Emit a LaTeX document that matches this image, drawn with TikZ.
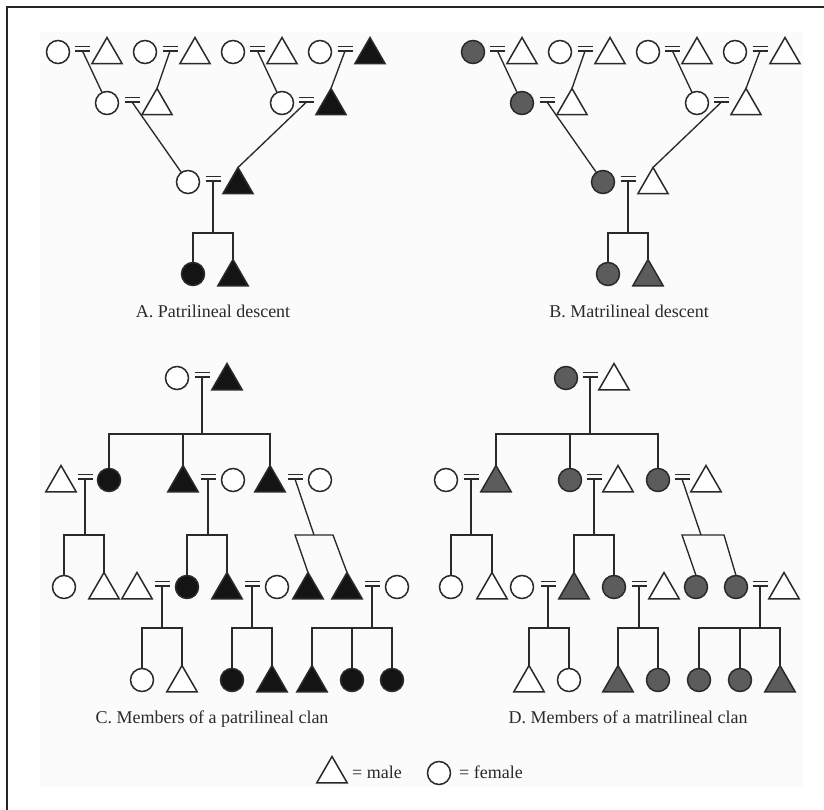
\documentclass[tikz,border=0pt]{standalone}
\usepackage{fontspec}
\setmainfont{Liberation Serif}
\usetikzlibrary{shapes.geometric,calc}
\definecolor{ink}{HTML}{2A2A2A}
\definecolor{mg}{HTML}{5C5C5C}
\definecolor{blk}{HTML}{141414}
\definecolor{bgc}{HTML}{FBFBFB}
\tikzset{
  fem/.style={circle,draw=ink,line width=1.5pt,minimum size=23pt,inner sep=0pt,outer sep=0pt},
  mal/.style={regular polygon,regular polygon sides=3,draw=ink,line width=1.5pt,minimum size=35pt,inner sep=0pt,outer sep=0pt},
  conn/.style={draw=ink,line width=1.35pt},
  eqline/.style={draw=ink,line width=1.3pt},
  lab/.style={text=ink,font=\fontsize{18}{20}\selectfont,inner sep=0pt},
}
\newcommand\Fem[4]{\node[fem,fill=#4] (#1) at (#2,#3) {};}
\newcommand\Mal[4]{\node[mal,fill=#4] (#1) at (#2,#3+3) {};}
\newcommand\Eq[3]{%
  \path (#2.center) -- (#3.center) coordinate[midway] (#1tmp);
  \coordinate (#1) at ($(#1tmp)+(0,-2.5)$);
  \draw[eqline] ($(#1)+(-7.5,-4.5)$) -- ++(15,0) ($(#1)+(-7.5,0)$) -- ++(15,0);}
\newcommand\KidsTwo[4]{% marriage, kid1, kid2, bar y
  \draw[conn] (#1) -- (#1 |- 0,#4);
  \draw[conn] (#2.north) |- (#1 |- 0,#4) -| (#3.north);}
\newcommand\KidsThree[5]{% marriage, kid1, kid2, kid3, bar y
  \draw[conn] (#1) -- (#1 |- 0,#5);
  \draw[conn] (#2.north) |- (#1 |- 0,#5) -| (#4.north);
  \draw[conn] (#3.north) -- (#3.north |- 0,#5);}
\begin{document}
\begin{tikzpicture}[x=1pt,y=-1pt]
\useasboundingbox (0,0) rectangle (824,810);
\fill[white] (0,0) rectangle (824,810);
\fill[bgc] (40,32) rectangle (803,787);
\draw[line width=1.8pt,draw=black!85] (824,7) -- (7,7) -- (7,810);

% ---------- Panel A ----------
\Fem{a1}{58}{52}{white}  \Mal{a2}{107}{52}{white} \Eq{ma1}{a1}{a2}
\Fem{a3}{145}{52}{white} \Mal{a4}{195}{52}{white} \Eq{ma2}{a3}{a4}
\Fem{a5}{233}{52}{white} \Mal{a6}{282}{52}{white} \Eq{ma3}{a5}{a6}
\Fem{a7}{320}{52}{white} \Mal{a8}{370}{52}{blk}   \Eq{ma4}{a7}{a8}
\Fem{a9}{107}{103}{white}  \Mal{a10}{157}{103}{white} \Eq{ma5}{a9}{a10}
\Fem{a11}{282}{103}{white} \Mal{a12}{331}{103}{blk}   \Eq{ma6}{a11}{a12}
\Fem{a13}{188}{182}{white} \Mal{a14}{238}{182}{blk}   \Eq{ma7}{a13}{a14}
\Fem{a15}{193}{274}{blk} \Mal{a16}{233}{274}{blk}
\draw[conn] (ma1) -- (a9);
\draw[conn] (ma2) -- (a10.north);
\draw[conn] (ma3) -- (a11);
\draw[conn] (ma4) -- (a12.north);
\draw[conn] (ma5) -- (a13);
\draw[conn] (ma6) -- (a14.north);
\KidsTwo{ma7}{a15}{a16}{233}
\node[lab,anchor=base] (la) at (213,317) {A. Patrilineal descent};

% ---------- Panel B ----------
\begin{scope}[xshift=415pt]
\Fem{b1}{58}{52}{mg}     \Mal{b2}{107}{52}{white} \Eq{mb1}{b1}{b2}
\Fem{b3}{145}{52}{white} \Mal{b4}{195}{52}{white} \Eq{mb2}{b3}{b4}
\Fem{b5}{233}{52}{white} \Mal{b6}{282}{52}{white} \Eq{mb3}{b5}{b6}
\Fem{b7}{320}{52}{white} \Mal{b8}{370}{52}{white} \Eq{mb4}{b7}{b8}
\Fem{b9}{107}{103}{mg}     \Mal{b10}{157}{103}{white} \Eq{mb5}{b9}{b10}
\Fem{b11}{282}{103}{white} \Mal{b12}{331}{103}{white} \Eq{mb6}{b11}{b12}
\Fem{b13}{188}{182}{mg}    \Mal{b14}{238}{182}{white} \Eq{mb7}{b13}{b14}
\Fem{b15}{193}{274}{mg} \Mal{b16}{233}{274}{mg}
\draw[conn] (mb1) -- (b9);
\draw[conn] (mb2) -- (b10.north);
\draw[conn] (mb3) -- (b11);
\draw[conn] (mb4) -- (b12.north);
\draw[conn] (mb5) -- (b13);
\draw[conn] (mb6) -- (b14.north);
\KidsTwo{mb7}{b15}{b16}{233}
\node[lab,anchor=base] (lb) at (214,317) {B. Matrilineal descent};
\end{scope}

% ---------- Panel C ----------
\Fem{c1}{177}{378}{white} \Mal{c2}{227}{378}{blk} \Eq{mc1}{c1}{c2}
% row 2
\Mal{c3}{61}{480}{white} \Fem{c4}{109}{480}{blk}   \Eq{mc2}{c3}{c4}
\Mal{c5}{183}{480}{blk}  \Fem{c6}{233}{480}{white} \Eq{mc3}{c5}{c6}
\Mal{c7}{270}{480}{blk}  \Fem{c8}{320}{480}{white} \Eq{mc4}{c7}{c8}
\KidsThree{mc1}{c4}{c5}{c7}{434}
% row 3
\Fem{c9}{64}{587}{white} \Mal{c10}{104}{587}{white}
\Mal{c11}{137}{587}{white} \Fem{c12}{187}{587}{blk}  \Eq{mc5}{c11}{c12}
\Mal{c13}{227}{587}{blk}   \Fem{c14}{277}{587}{white} \Eq{mc6}{c13}{c14}
\Mal{c15}{308}{587}{blk}
\Mal{c16}{347}{587}{blk}   \Fem{c17}{397}{587}{white} \Eq{mc7}{c16}{c17}
\KidsTwo{mc2}{c9}{c10}{535}
\KidsTwo{mc3}{c12}{c13}{535}
\coordinate (cl) at (295,535);
\coordinate (cm) at (314,535);
\coordinate (cr) at (333,535);
\draw[conn] (mc4) -- (cm);
\draw[conn] (c15.north) -- (cl) -- (cr) -- (c16.north);
% row 4
\Fem{c18}{142}{680}{white} \Mal{c19}{182}{680}{white}
\Fem{c20}{232}{680}{blk}   \Mal{c21}{272}{680}{blk}
\Mal{c22}{312}{680}{blk} \Fem{c23}{352}{680}{blk} \Fem{c24}{392}{680}{blk}
\KidsTwo{mc5}{c18}{c19}{628}
\KidsTwo{mc6}{c20}{c21}{628}
\KidsThree{mc7}{c22}{c23}{c24}{628}
\node[lab,anchor=base] (lc) at (212,723) {C. Members of a patrilineal clan};

% ---------- Panel D ----------
\Fem{d1}{566}{378}{mg} \Mal{d2}{614}{378}{white} \Eq{md1}{d1}{d2}
% row 2
\Fem{d3}{446}{480}{white} \Mal{d4}{496}{480}{mg}    \Eq{md2}{d3}{d4}
\Fem{d5}{570}{480}{mg}    \Mal{d6}{618}{480}{white} \Eq{md3}{d5}{d6}
\Fem{d7}{658}{480}{mg}    \Mal{d8}{706}{480}{white} \Eq{md4}{d7}{d8}
\KidsThree{md1}{d4}{d5}{d7}{434}
% row 3
\Fem{d9}{451}{587}{white} \Mal{d10}{492}{587}{white}
\Fem{d11}{522}{587}{white} \Mal{d12}{574}{587}{mg}   \Eq{md5}{d11}{d12}
\Fem{d13}{614}{587}{mg}    \Mal{d14}{664}{587}{white} \Eq{md6}{d13}{d14}
\Fem{d15}{696}{587}{mg}
\Fem{d16}{736}{587}{mg}    \Mal{d17}{784}{587}{white} \Eq{md7}{d16}{d17}
\KidsTwo{md2}{d9}{d10}{535}
\KidsTwo{md3}{d12}{d13}{535}
\coordinate (dl) at (682,535);
\coordinate (dm) at (701,535);
\coordinate (dr) at (724,535);
\draw[conn] (md4) -- (dm);
\draw[conn] (d15.north) -- (dl) -- (dr) -- (d16.north);
% row 4
\Mal{d18}{529}{680}{white} \Fem{d19}{569}{680}{white}
\Mal{d20}{618}{680}{mg}    \Fem{d21}{658}{680}{mg}
\Fem{d22}{699}{680}{mg} \Fem{d23}{740}{680}{mg} \Mal{d24}{780}{680}{mg}
\KidsTwo{md5}{d18}{d19}{628}
\KidsTwo{md6}{d20}{d21}{628}
\KidsThree{md7}{d22}{d23}{d24}{628}
\node[lab,anchor=base] (ld) at (628,723) {D. Members of a matrilineal clan};

% ---------- Legend ----------
\Mal{lm}{332}{771}{white}
\node[lab,anchor=west] (lmt) at (352,772) {= male};
\Fem{lf}{439}{773}{white}
\node[lab,anchor=west] (lft) at (459,772) {= female};
\end{tikzpicture}
\end{document}
